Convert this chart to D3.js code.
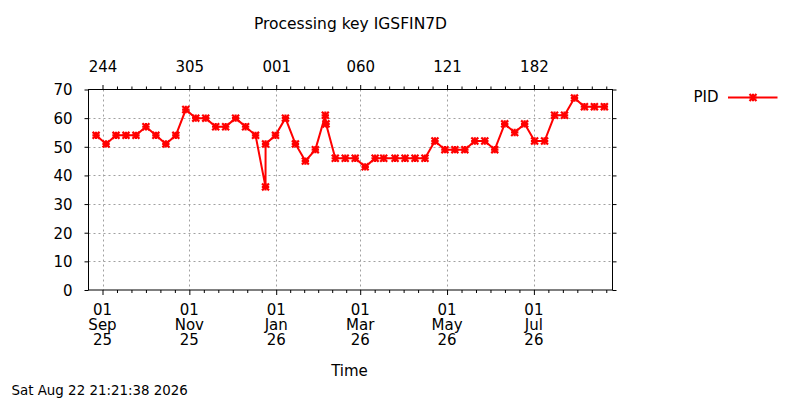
<!DOCTYPE html>
<html>
<head>
<meta charset="utf-8">
<script src="https://cdn.jsdelivr.net/npm/d3@7"></script>
<style>
html,body{margin:0;padding:0;background:#fff;}
svg text{font-family:"DejaVu Sans",sans-serif;fill:#000;}
</style>
</head>
<body>
<svg id="chart" width="800" height="400"></svg>
<script>
// ---- data ----
const dates = [
"2025-08-27T12:00","2025-09-03T12:00","2025-09-10T12:00","2025-09-17T12:00","2025-09-24T12:00",
"2025-10-01T12:00","2025-10-08T12:00","2025-10-15T12:00","2025-10-22T12:00","2025-10-29T12:00",
"2025-11-05T12:00","2025-11-12T12:00","2025-11-19T12:00","2025-11-26T12:00","2025-12-03T12:00",
"2025-12-10T12:00","2025-12-17T12:00","2025-12-24T12:00","2025-12-24T13:00","2025-12-31T12:00",
"2026-01-07T12:00","2026-01-14T12:00","2026-01-21T12:00","2026-01-28T12:00","2026-02-04T12:00",
"2026-02-05T00:00","2026-02-11T12:00","2026-02-18T12:00","2026-02-25T12:00","2026-03-04T12:00",
"2026-03-11T12:00","2026-03-17T12:00","2026-03-25T12:00","2026-04-01T12:00","2026-04-08T12:00",
"2026-04-15T12:00","2026-04-22T12:00","2026-04-29T12:00","2026-05-06T12:00","2026-05-13T12:00",
"2026-05-20T12:00","2026-05-27T12:00","2026-06-03T12:00","2026-06-10T12:00","2026-06-17T12:00",
"2026-06-24T12:00","2026-07-01T12:00","2026-07-08T12:00","2026-07-15T12:00","2026-07-22T12:00",
"2026-07-29T12:00","2026-08-05T12:00","2026-08-12T12:00","2026-08-19T12:00"
];
const pidValues = [
54,51,54,54,54,
57,54,51,54,63,
60,60,57,57,60,
57,54,36,51,54,
60,51,45,49,61,
58,46,46,46,43,
46,46,46,46,46,
46,52,49,49,49,
52,52,49,58,55,
58,52,52,61,61,
67,64,64,64
];
const xDomain = ["2025-08-22T04:00","2026-08-25T05:00"];
const xTickDates = ["2025-09-01","2025-11-01","2026-01-01","2026-03-01","2026-05-01","2026-07-01"];
const yTicks = [0,10,20,30,40,50,60,70];
const seriesName = "PID";
const titleText = "Processing key IGSFIN7D";
const xLabelText = "Time";
const footerText = "Sat Aug 22 21:21:38 2026";

(function () {
// ---- layout ----
const L = 88.5, R = 612.5, T = 89.5, B = 290;
const parseT = d3.utcParse("%Y-%m-%dT%H:%M");
const parseD = d3.utcParse("%Y-%m-%d");
const svg = d3.select("#chart");
const red = "#ff0000";

const x = d3.scaleUtc().domain(xDomain.map(parseT)).range([L, R]);
const y = d3.scaleLinear().domain([0, 70]).range([B, T]);
const ticks = xTickDates.map(parseD);

// grid
const grid = svg.append("g").attr("stroke", "#a0a0a0").attr("stroke-width", 1).attr("stroke-dasharray", "2,3");
ticks.forEach(t => {
  const px = Math.round(x(t)) + 0.5;
  grid.append("line").attr("x1", px).attr("x2", px).attr("y1", T).attr("y2", B);
});
yTicks.filter(v => v > 0 && v < 70).forEach(v => {
  const py = Math.round(y(v)) + 0.5;
  grid.append("line").attr("x1", L).attr("x2", R).attr("y1", py).attr("y2", py);
});

const fmtDay = d3.utcFormat("%d"), fmtMon = d3.utcFormat("%b"), fmtYr = d3.utcFormat("%y"), fmtDoy = d3.utcFormat("%j");

function styleAxis(g) {
  g.select(".domain").remove();
  g.selectAll(".tick line").attr("stroke", "#000");
  g.selectAll(".tick text").attr("font-family", "DejaVu Sans").attr("font-size", 15).attr("fill", "#000");
}

// minor ticks
const step = (ticks[1] - ticks[0]) / 6;
const minors = [];
for (let i = 0; i < ticks.length; i++) {
  const a = +ticks[i];
  const b = i + 1 < ticks.length ? +ticks[i + 1] : a + 6 * step;
  const s = (b - a) / 6;
  for (let k = 1; k < 6; k++) minors.push(new Date(a + k * s));
}
for (let k = 1; k < 6; k++) minors.push(new Date(+ticks[0] - k * step));
const minorIn = minors.filter(d => x(d) > L + 1 && x(d) < R - 1);

const axB = svg.append("g").attr("transform", `translate(0,${B})`)
  .call(d3.axisBottom(x).tickValues(ticks).tickSize(5).tickFormat(() => ""));
styleAxis(axB);
svg.append("g").attr("transform", `translate(0,${B})`)
  .call(d3.axisBottom(x).tickValues(minorIn).tickSize(3).tickFormat(() => "")).call(styleAxis);

const axT = svg.append("g").attr("transform", `translate(0,${T})`)
  .call(d3.axisTop(x).tickValues(ticks).tickSize(4.5).tickPadding(13).tickFormat(fmtDoy));
styleAxis(axT);
svg.append("g").attr("transform", `translate(0,${T})`)
  .call(d3.axisTop(x).tickValues(minorIn).tickSize(3).tickFormat(() => "")).call(styleAxis);

const axL = svg.append("g").attr("transform", `translate(${L},0)`)
  .call(d3.axisLeft(y).tickValues(yTicks).tickSize(4).tickPadding(12).tickFormat(d3.format("d")));
styleAxis(axL);
axL.selectAll(".tick text").attr("dy", "0.36em");
const axR = svg.append("g").attr("transform", `translate(${R},0)`)
  .call(d3.axisRight(y).tickValues(yTicks).tickSize(4).tickFormat(() => ""));
styleAxis(axR);

// bottom multi-line labels (one text element per tick, three lines)
const bl = svg.append("g").attr("font-size", 15).attr("text-anchor", "middle");
ticks.forEach(t => {
  const px = x(t);
  const tx = bl.append("text").attr("x", px).attr("y", 315);
  tx.append("tspan").attr("x", px).attr("y", 315).text(fmtDay(t));
  tx.append("tspan").attr("x", px).attr("y", 330).text(fmtMon(t));
  tx.append("tspan").attr("x", px).attr("y", 345).text(fmtYr(t));
});

// border
svg.append("rect").attr("x", L).attr("y", T).attr("width", R - L).attr("height", B - T)
  .attr("fill", "none").attr("stroke", "#000").attr("stroke-width", 1);

// series
const pts = dates.map((d, i) => ({ t: parseT(d), v: pidValues[i] }));
const line = d3.line().x(d => x(d.t)).y(d => y(d.v));
svg.append("path").datum(pts).attr("d", line).attr("fill", "none")
  .attr("stroke", red).attr("stroke-width", 2).attr("stroke-linejoin", "miter");

const plusPath = "M-3.7,0H3.7M0,-3.7V3.7";
const crossPath = "M-2.7,-2.7L2.7,2.7M-2.7,2.7L2.7,-2.7";
function drawMarker(g) {
  g.append("path").attr("d", plusPath).attr("stroke", red).attr("stroke-width", 2.2).attr("fill", "none");
  g.append("path").attr("d", crossPath).attr("stroke", red).attr("stroke-width", 2.2)
    .attr("stroke-linecap", "square").attr("fill", "none");
}
svg.append("g").selectAll("g").data(pts).join("g")
  .attr("transform", d => `translate(${x(d.t)},${y(d.v)})`)
  .each(function () { drawMarker(d3.select(this)); });

// legend
svg.append("text").attr("x", 718.5).attr("y", 102).attr("text-anchor", "end").attr("font-size", 15).text(seriesName);
svg.append("line").attr("x1", 728).attr("x2", 777.5).attr("y1", 97.5).attr("y2", 97.5)
  .attr("stroke", red).attr("stroke-width", 2);
drawMarker(svg.append("g").attr("transform", "translate(753,97.5)"));

// titles
svg.append("text").attr("x", 350.5).attr("y", 29).attr("text-anchor", "middle").attr("font-size", 15.5).text(titleText);
svg.append("text").attr("x", 349.5).attr("y", 375.5).attr("text-anchor", "middle").attr("font-size", 15).text(xLabelText);
svg.append("text").attr("x", 11.5).attr("y", 395).attr("font-size", 13.4).text(footerText);
})();
</script>
</body>
</html>
